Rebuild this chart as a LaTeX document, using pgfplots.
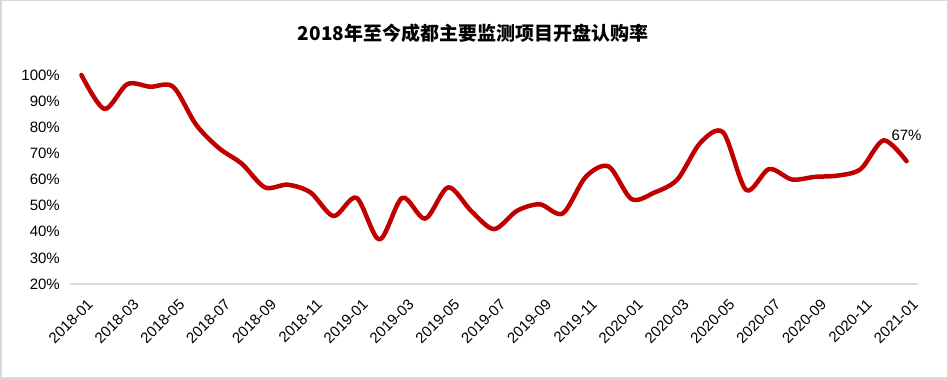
\documentclass[border=0pt]{standalone}
\usepackage{pgfplots}
\pgfplotsset{compat=1.18}
\usepackage{pgfplotstable}
\usepackage{fontspec}
\setmainfont{Liberation Sans}
\newfontfamily\cjk{Noto Sans CJK SC}
\definecolor{linered}{HTML}{C00000}
\definecolor{framegray}{HTML}{D9D9D9}
\pgfplotstableread{
x y
0 100
1 87
2 96.5
3 95.5
4 95.5
5 81
6 72
7 66
8 57
9 58
10 55
11 46
12 53
13 37
14 53
15 45
16 57
17 48
18 41
19 48
20 50.5
21 47
22 61
23 65
24 52.5
25 55
26 60
27 74
28 78
29 56
30 64
31 60
32 61
33 61.5
34 64
35 75
36 67
}\rate
\begin{document}
\begin{tikzpicture}
\draw[framegray, line width=1.5pt] (0.75pt,0.75pt) rectangle (947.25pt,378.25pt);
\node[font=\cjk\bfseries\fontsize{19}{22}\selectfont] at (473pt,346pt) {2018年至今成都主要监测项目开盘认购率};
\begin{axis}[
  at={(70pt,95pt)}, anchor=south west,
  scale only axis, width=848pt, height=209pt,
  xmin=-0.5, xmax=36.5, ymin=20, ymax=100,
  axis x line*=bottom, axis y line*=left,
  y axis line style={draw=none},
  x axis line style={draw=framegray, line width=1.5pt, -},
  major tick length=0pt,
  xtick={0,2,...,36},
  xticklabels={2018-01,2018-03,2018-05,2018-07,2018-09,2018-11,2019-01,2019-03,2019-05,2019-07,2019-09,2019-11,2020-01,2020-03,2020-05,2020-07,2020-09,2020-11,2021-01},
  ytick={20,30,...,100},
  yticklabel={\pgfmathprintnumber{\tick}\%},
  /pgf/number format/assume math mode=true,
  ticklabel style={font=\fontsize{15}{17}\selectfont},
  xticklabel style={xshift=5pt, yshift=-14pt, rotate=45, anchor=north east, inner sep=0pt},
  yticklabel style={anchor=east, inner sep=0pt, xshift=-10pt},
  clip=false,
]
\addplot[smooth, line width=4.5pt, color=linered, line cap=round, line join=round] table[x=x,y=y] {\rate};
\node[anchor=south, font=\fontsize{15}{17}\selectfont, inner sep=0pt] at (axis cs:36,67) [yshift=20pt] {67\%};
\end{axis}
\end{tikzpicture}
\end{document}
